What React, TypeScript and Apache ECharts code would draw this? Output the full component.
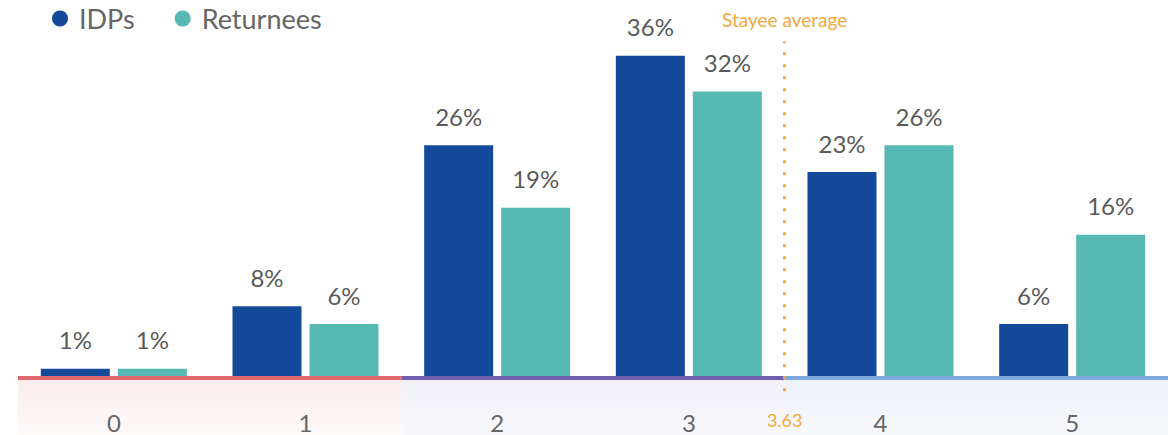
import React, { useEffect, useRef } from "react";
import * as echarts from "echarts";

const categories = ["0", "1", "2", "3", "4", "5"];
const idps = [1, 8, 26, 36, 23, 6];
const returnees = [1, 6, 19, 32, 26, 16];
const seriesNames = ["IDPs", "Returnees"];
const stayeeAverageLabel = "3.63";
const stayeeTitle = "Stayee average";
// the stayee marker sits in the gap between categories 3 and 4
const stayeeMarkerPos = 3.5;
// axis-line colour groups: [from, to] category-edge values
const groups: [number, number][] = [
  [-0.5, 1.5],
  [1.5, 3.5],
  [3.5, 5.5],
];
const groupLineColors = ["#e0696d", "#6f5fae", "#80a8dc"];
const groupBandTop = ["#fbeced", "#f2f0f8", "#edf1f8"];
const groupBandBottom = ["#fefafa", "#f9f9fc", "#f8f9fc"];

const FONT = "Lato, 'Open Sans', sans-serif";

export default function App() {
  const ref = useRef<HTMLDivElement>(null);
  useEffect(() => {
    if (!ref.current) return;
    const chart = echarts.init(ref.current, undefined, { renderer: "svg" });
    const yMin = -6.4;
    const yMax = 40;
    const barLabel = {
      show: true,
      position: "top",
      distance: 17,
      formatter: "{c}%",
      fontSize: 24,
      color: "#5a5a5a",
      fontFamily: FONT,
    };
    chart.setOption({
      animation: false,
      textStyle: { fontFamily: FONT },
      legend: {
        left: 47,
        top: 0,
        icon: "circle",
        itemWidth: 16,
        itemHeight: 16,
        itemGap: 40,
        data: seriesNames,
        textStyle: { fontSize: 27, color: "#666", fontFamily: FONT, padding: [0, 0, 0, 6] },
      },
      grid: {
        left: 18,
        right: 0,
        top: 20,
        bottom: 0,
        containLabel: false,
        outerBoundsMode: "none",
      },
      xAxis: [
        {
          type: "category",
          data: categories,
          z: 20,
          axisLine: { show: false },
          axisTick: { show: false },
          axisLabel: { fontSize: 24, color: "#666", margin: -25, fontFamily: FONT },
        },
        { type: "value", min: -0.5, max: 5.5, show: false },
      ],
      yAxis: { type: "value", min: yMin, max: yMax, show: false, splitLine: { show: false } },
      series: [
        {
          name: seriesNames[0],
          type: "bar",
          data: idps,
          barWidth: 69,
          barGap: "11.6%",
          itemStyle: { color: "#154a9a" },
          label: barLabel,
        },
        {
          name: seriesNames[1],
          type: "bar",
          data: returnees,
          barWidth: 69,
          barGap: "11.6%",
          itemStyle: { color: "#56b9b3" },
          label: barLabel,
        },
        {
          name: "helper",
          type: "line",
          xAxisIndex: 1,
          data: [[-0.5, 0]],
          symbol: "none",
          lineStyle: { opacity: 0 },
          silent: true,
          z: 5,
          markArea: {
            silent: true,
            data: groups.map((g, i) => [
              {
                coord: [g[0], 0],
                itemStyle: {
                  opacity: 1,
                  color: {
                    type: "linear",
                    x: 0,
                    y: 0,
                    x2: 0,
                    y2: 1,
                    colorStops: [
                      { offset: 0, color: groupBandTop[i] },
                      { offset: 1, color: groupBandBottom[i] },
                    ],
                  },
                },
              },
              { coord: [g[1], yMin] },
            ]),
          },
          markLine: {
            silent: true,
            symbol: ["none", "none"],
            data: [
              ...groups.map((g, i) => [
                {
                  coord: [g[0], 0],
                  lineStyle: { color: groupLineColors[i], width: 4, type: "solid" },
                  label: { show: false },
                },
                { coord: [g[1], 0] },
              ]),
              [
                {
                  coord: [stayeeMarkerPos, -1.5],
                  lineStyle: { color: "#f2a93b", width: 3, type: [3, 9] },
                  label: {
                    show: true,
                    position: "end",
                    distance: 12,
                    formatter: stayeeTitle,
                    color: "#f2a93b",
                    fontSize: 19,
                    fontFamily: FONT,
                  },
                },
                { coord: [stayeeMarkerPos, 37.6] },
              ],
              [
                {
                  coord: [stayeeMarkerPos, -1.5],
                  lineStyle: { color: "rgba(255,255,255,0)", width: 1, type: "solid" },
                  label: {
                    show: true,
                    opacity: 1,
                    position: "start",
                    distance: 20,
                    formatter: stayeeAverageLabel,
                    color: "#f2a93b",
                    fontSize: 18,
                    fontFamily: FONT,
                  },
                },
                { coord: [stayeeMarkerPos, 0] },
              ],
            ],
          },
        },
      ],
    });
    return () => chart.dispose();
  }, []);
  return (
    <div
      ref={ref}
      style={{ position: "fixed", left: 0, top: 0, width: 1168, height: 435, background: "#fff" }}
    />
  );
}
